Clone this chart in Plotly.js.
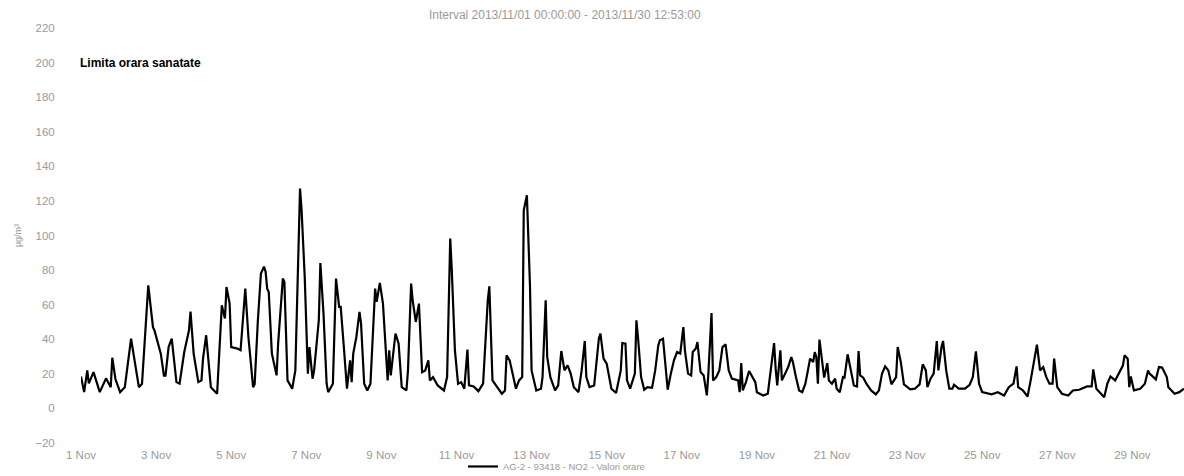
<!DOCTYPE html>
<html>
<head>
<meta charset="utf-8">
<script src="https://cdn.plot.ly/plotly-3.0.1.min.js"></script>
<style>html,body{margin:0;padding:0;background:#fff}#chart{width:1184px;height:476px}</style>
</head>
<body>
<div id="chart"></div>
<script>
// Hours since 2013-11-01 00:00 and NO2 hourly values (µg/m³)
const hourOffsets = [0,2,4,5,8,12,16,19,20,22,25,28,32,37,39,43,46,47,51,53,54,56,58,61,63,66,69,70,72,75,77,78,80,83,87,90,92,93,95,96,100,102,105,107,110,111,113,115,117,118,119,120,122,125,126,129,130,132,135,137,140,141,143,144,145,146,148,149,152,153,155,157,158,161,163,165,166,168,170,172,173,174,176,178,179,181,183,185,188,189,191,193,196,197,198,201,203,205,208,209,211,212,214,216,218,220,222,223,225,228,232,234,236,237,239,241,243,245,247,248,251,254,257,260,261,263,266,269,271,272,274,278,280,282,283,285,287,288,291,294,295,297,298,300,303,305,307,309,311,313,315,318,320,322,323,325,328,331,332,334,336,339,342,345,346,348,349,351,354,355,356,358,360,362,365,367,369,370,372,373,375,377,379,381,383,385,386,388,390,391,393,394,395,396,398,400,401,403,404,406,408,410,412,414,416,420,421,422,423,425,427,429,431,432,436,439,441,443,444,445,447,448,451,452,454,455,457,459,461,463,465,466,468,469,470,471,472,474,475,477,478,480,482,483,485,487,488,490,492,494,496,497,498,500,502,505,508,510,512,514,516,518,521,522,524,526,530,533,536,538,540,541,543,545,547,548,550,551,553,555,557,558,561,565,568,570,572,574,576,582,586,590,593,596,598,599,602,605,607,609,611,613,615,617,619,621,622,624,627,631,634,638,643,646,647,649,652,654,656,658,661,664,666,667,669,670,671,673,677,680,682,683,687,689,691,694,695,699,702,705];
const no2Values = [18.5,9.4,22,14.5,21,9.4,17.4,12.3,29.3,17,9.4,12.3,40.3,12.3,14.3,71.2,47,45,31.7,19,19,35.5,40.3,15.2,14.3,32.6,45,56,31.7,15.2,16.2,28.8,42.3,12.3,8.5,59.6,52,70.2,60.6,35.5,34.6,33.6,69.3,41.3,12.3,14,50,78,82,79,69.3,67.3,31.7,19.1,37.5,75.1,73.1,16.2,11.4,22,127.2,114.6,76,41.3,20.1,35.5,17.2,22,51,84.1,54.8,14.3,9.4,14.3,75.1,58.7,58.7,35.5,11.4,27.8,15.2,31.7,41.3,55.8,49,14.3,10.4,14.3,69.3,61.6,72.6,60.6,16.2,33.6,19.1,43.3,37.5,12.3,10.4,22,72.2,62.5,50,60.6,21,22,27.8,16.2,18.1,13.3,10.4,18.1,98.3,79.9,33.6,14.3,15.2,11.4,34,13.3,12.7,10,14.3,62.5,70.6,16.2,12.3,8.5,10.4,30.7,27.8,11.4,16.2,18.1,114.6,123.3,70.2,22,10.4,11.4,18.1,62.5,29.7,18.1,10.4,13.3,33.2,22,24.9,20.1,12.3,9.4,22,39,18.1,12.3,13.3,40.3,43.3,28.8,25.9,11.4,8.9,22,37.8,37.5,16.2,11.4,20.1,51,41.3,18.1,10.8,12.3,11.9,22,36.5,39.4,40.3,29.7,10.8,20.1,27.8,32.6,31.7,47,33.6,20.1,19.1,32.6,34.6,38.4,29.7,21,19.1,7.5,20.1,55.2,16.2,18.1,22,35.5,37,22,17.2,16.2,9.4,26.2,10.4,15.2,21.6,18.1,15.2,9.4,7.5,8.5,23.9,37.8,23,13.3,33.6,16.2,22,23.9,29.7,26.8,18,10.4,9.4,14.3,23.9,28.8,26.8,32.6,29.7,14.3,39.8,26.8,17.8,26.2,16.2,14.3,17.2,11.4,9.4,18.1,17.8,31.3,22,13.3,12.7,33.2,19.1,17.8,14.3,10.4,8.1,10.4,20.1,24.3,22,13.9,18.1,35.5,26.8,13.9,11,11.4,13.9,25.5,22,12.3,17.2,20.1,39,22,35.5,39,22,11.4,11.4,13.7,11.4,11.4,13.7,18.1,33,14.3,9.4,8.1,9.4,7.5,12.3,14.3,24.3,12.3,10.4,6.9,16.2,25.9,36.9,22,23.9,18.1,14.3,14.3,28.8,12.3,8.5,7.5,10.4,10.8,12.7,12.7,22.6,11.4,8.5,6.5,14.3,18.5,16.2,22,24.9,30.7,28.8,12.3,18.5,10.4,11.4,14.3,22,20.1,16.8,23.9,23.6,18.1,12.3,8.5,9.4,11.4];

const startTime = Date.UTC(2013, 10, 1, 0, 0, 0);
const seriesName = 'AG-2 - 93418 - NO2 - Valori orare';
const chartTitle = 'Interval 2013/11/01 00:00:00 - 2013/11/30 12:53:00';
const limitValue = 200;
const limitLabel = 'Limita orara sanatate';
const yTicks = [-20,0,20,40,60,80,100,120,140,160,180,200,220];

function toIso(h){
  const d = new Date(startTime + h*3600000);
  return d.toISOString().replace('T',' ').slice(0,19);
}
const xTimes = hourOffsets.map(toIso);

const trace = {
  x: xTimes, y: no2Values, type: 'scatter', mode: 'lines',
  name: seriesName,
  line: {color: '#000', width: 2.2, shape: 'linear'}
};

const grey = '#9a9a9a';
const layout = {
  width: 1184, height: 476,
  margin: {l: 81, r: 0, t: 28, b: 33},
  paper_bgcolor: '#fff', plot_bgcolor: '#fff',
  font: {family: 'Liberation Sans, Arial, sans-serif', size: 11, color: grey},
  title: {text: chartTitle, font: {size: 12, color: grey}, x: 0.477, xref: 'container', xanchor: 'center', y: 0.968, yref: 'container', yanchor: 'middle'},
  showlegend: true,
  legend: {orientation: 'h', xref: 'container', yref: 'container', x: 0.47, xanchor: 'center', y: 0.02, yanchor: 'middle', font: {size: 9.5, color: grey}, bgcolor: 'rgba(0,0,0,0)'},
  xaxis: {
    type: 'date', showgrid: false, zeroline: false, showline: false,
    tick0: '2013-11-01', dtick: 2*86400000, tickformat: '%-d %b',
    ticks: 'outside', ticklen: 1, tickcolor: 'rgba(0,0,0,0)',
    tickfont: {size: 11.5, color: grey}
  },
  yaxis: {
    range: [-20, 220], tickvals: yTicks, showgrid: false, zeroline: false, showline: false,
    ticks: 'outside', ticklen: 23, tickcolor: 'rgba(0,0,0,0)',
    tickfont: {size: 11.5, color: grey},
    title: {text: 'µg/m³', font: {size: 9, color: grey}, standoff: 12}
  },
  annotations: [{
    xref: 'paper', yref: 'y', x: 0, y: limitValue, xanchor: 'left', yanchor: 'middle', xshift: -3,
    text: '<b>' + limitLabel + '</b>', showarrow: false,
    font: {family: 'Liberation Sans, Arial, sans-serif', size: 12, color: '#000'}
  }]
};

Plotly.newPlot('chart', [trace], layout, {displayModeBar: false, staticPlot: true});
</script>
</body>
</html>
